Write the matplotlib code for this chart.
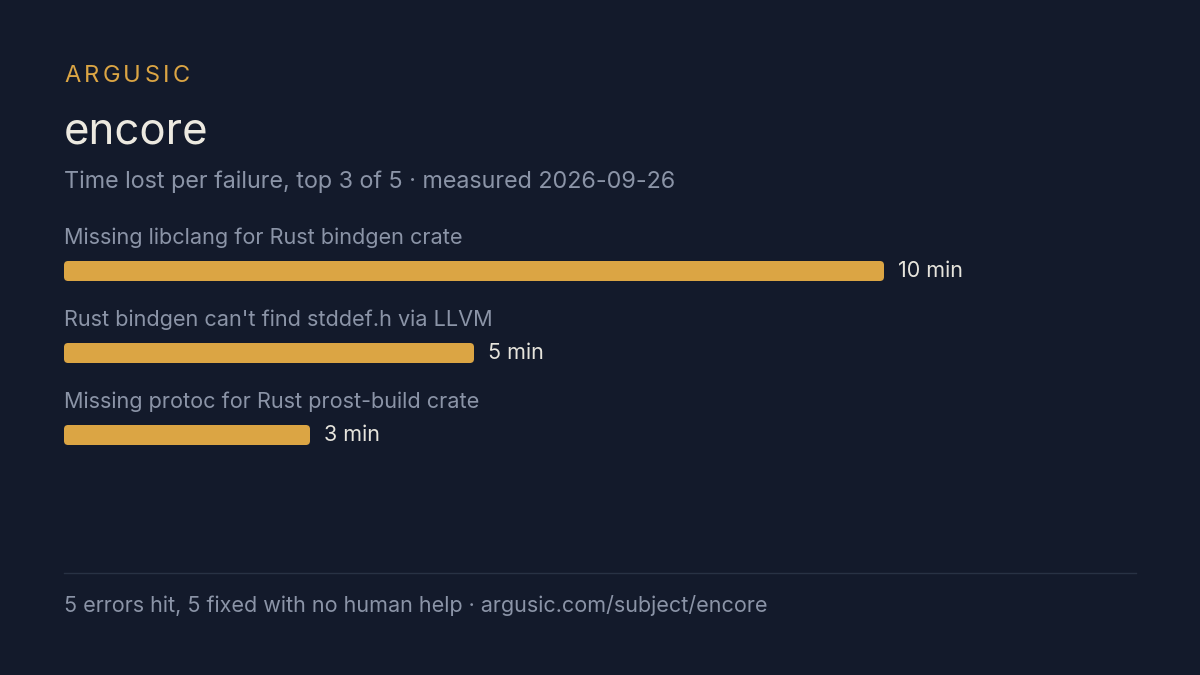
import matplotlib
matplotlib.use("Agg")
import matplotlib.pyplot as plt
from matplotlib.patches import FancyBboxPatch

# chart data
brand = "ARGUSIC"
subject = "encore"
subtitle = "Time lost per failure, top 3 of 5 · measured 2026-09-26"
errors = [
    "Missing libclang for Rust bindgen crate",
    "Rust bindgen can't find stddef.h via LLVM",
    "Missing protoc for Rust prost-build crate",
]
minutes = [10, 5, 3]
footer = "5 errors hit, 5 fixed with no human help · argusic.com/subject/encore"

BG = "#131a2b"
GOLD = "#dba544"
W, H = 1200, 675

plt.rcParams['font.family'] = ['Inter', 'DejaVu Sans']

fig = plt.figure(figsize=(12, 6.75), dpi=100, facecolor=BG)
renderer = fig.canvas.get_renderer()


def px(x, y):
    # pixel position (from top-left) -> figure fraction
    return x / W, 1 - y / H


# letter-spaced brand line, one glyph at a time
x = 64
for ch in brand:
    t = fig.text(*px(x, 82), ch, color=GOLD, fontsize=17, va='baseline', ha='left')
    x += t.get_window_extent(renderer).width + 3.4

fig.text(*px(64, 143), subject, color="#ece9e0", fontsize=31.5, va='baseline', ha='left')
fig.text(*px(64, 188), subtitle, color="#8b94a7", fontsize=16.8, va='baseline', ha='left')
fig.text(*px(64, 612), footer, color="#8b94a7", fontsize=15.5, va='baseline', ha='left')

# thin rule above footer
fig.add_artist(plt.Line2D([64 / W, 1136 / W], [1 - 573 / H, 1 - 573 / H],
                          color="#283244", lw=1, transform=fig.transFigure))

# bars: 0..10 min spans x 64..884 px, rows 82 px apart
row = 82
ax = fig.add_axes([64 / W, 1 - 476 / H, 820 / W, 3 * row / H])
ax.set_facecolor(BG)
ax.set_xlim(0, max(minutes))
ax.set_ylim(len(errors) - 0.5, -0.5)
ax.axis('off')

bh = 20 / row
bars = ax.barh(range(len(errors)), minutes, height=bh, color=GOLD)
for b in bars:
    x0, y0 = b.get_x(), b.get_y()
    w, h = b.get_width(), b.get_height()
    b.set_visible(False)
    ax.add_patch(FancyBboxPatch((x0, y0), w, h,
                                boxstyle="round,pad=0,rounding_size=0.05",
                                mutation_aspect=1, facecolor=GOLD,
                                edgecolor='none', clip_on=False))

for i, (lab, m) in enumerate(zip(errors, minutes)):
    ax.text(0, i - 33 / row, lab, color="#8b94a7", fontsize=15.6,
            va='center', ha='left', clip_on=False)
    ax.text(m + 14 * max(minutes) / 820, i, f"{m} min", color="#e6e4dc",
            fontsize=15.5, va='center', ha='left', clip_on=False)

fig.savefig("out.png", dpi=100, facecolor=BG)
